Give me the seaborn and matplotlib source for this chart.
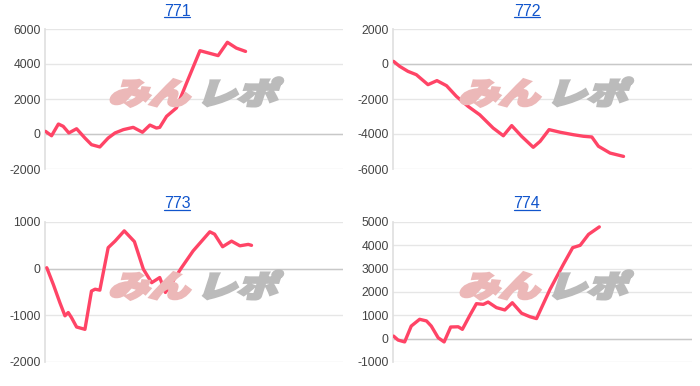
import matplotlib
matplotlib.use("Agg")
import matplotlib.pyplot as plt
import seaborn as sns
import numpy as np
from matplotlib.textpath import TextPath
from matplotlib.patches import PathPatch
from matplotlib.font_manager import FontProperties
from matplotlib.transforms import Affine2D, IdentityTransform
from matplotlib.lines import Line2D

# ---- data ----
titles = ["771", "772", "773", "774"]

x771 = [0.2, 2.2, 4.5, 6.1, 8.0, 10.6, 13.4, 15.6, 18.4, 21.2, 23.5, 26.3, 29.6, 32.7,
        35.2, 37.4, 38.5, 40.8, 44.1, 47.5, 52.0, 58.1, 61.2, 64.2, 67.3]
y771 = [150, -100, 570, 440, 60, 300, -230, -610, -740, -230, 60, 250, 380, 100,
        510, 340, 380, 1010, 1490, 2910, 4760, 4480, 5240, 4910, 4720]

x772 = [0.2, 2.2, 5.0, 7.8, 11.7, 14.7, 17.9, 21.2, 25.1, 29.0, 33.5, 36.9, 39.7, 43.0,
        46.9, 49.2, 52.2, 55.9, 60.3, 63.7, 66.5, 68.7, 72.6, 77.1]
y772 = [150, -130, -420, -610, -1180, -950, -1240, -1850, -2420, -2900, -3660, -4100,
        -3520, -4130, -4760, -4420, -3750, -3900, -4040, -4130, -4170, -4700, -5090, -5280]

x773 = [0.6, 2.8, 5.0, 6.7, 7.8, 8.9, 10.6, 13.4, 15.6, 16.8, 18.4, 21.2, 23.5, 26.6,
        30.0, 33.0, 35.8, 38.5, 40.4, 43.0, 45.8, 49.7, 55.3, 56.9, 59.6, 62.6, 65.4,
        68.2, 69.3]
y773 = [20, -340, -730, -1010, -940, -1050, -1250, -1300, -480, -440, -460, 450, 590,
        810, 580, -10, -300, -190, -510, -260, 20, 380, 790, 740, 470, 590, 490, 520, 500]

x774 = [0.2, 1.7, 3.9, 6.1, 8.9, 11.2, 12.8, 15.1, 17.1, 19.3, 21.8, 23.2, 25.7, 27.9,
        30.2, 31.8, 34.6, 37.4, 39.9, 43.0, 45.8, 48.0, 52.5, 57.0, 60.1, 62.6, 65.4, 69.0]
y774 = [110, -60, -140, 540, 830, 760, 540, 40, -140, 500, 510, 400, 1000, 1500, 1470,
        1570, 1330, 1230, 1540, 1090, 940, 860, 2110, 3190, 3900, 4000, 4470, 4790]

yticks771 = [-2000, 0, 2000, 4000, 6000]
yticks772 = [-6000, -4000, -2000, 0, 2000]
yticks773 = [-2000, -1000, 0, 1000]
yticks774 = [-1000, 0, 1000, 2000, 3000, 4000, 5000]

panels = [
    (titles[0], x771, y771, yticks771),
    (titles[1], x772, y772, yticks772),
    (titles[2], x773, y773, yticks773),
    (titles[3], x774, y774, yticks774),
]

# ---- style ----
sns.set_theme(style="white")
plt.rcParams["font.family"] = ["Liberation Sans", "DejaVu Sans"]

W, H = 700, 386
fig = plt.figure(figsize=(W / 100, H / 100), dpi=100)

LINE = "#ff4466"
offsets = [(0, 0), (350, 0), (0, 193), (350, 193)]
ax_left = [45, 393, 45, 393]
ax_right = [343, 692, 343, 692]
ax_top = 29
ax_bot = 169

jp = FontProperties(family="Noto Sans CJK JP", weight="heavy")


def add_wm(text, color, x_px, y_top_px, sx, sy):
    tp = TextPath((0, 0), text, size=30, prop=jp)
    tr = (Affine2D().scale(sx, sy).skew_deg(18, 0)
          .translate(x_px, H - y_top_px - 29) + IdentityTransform())
    p = PathPatch(tp, facecolor=color, edgecolor=color, linewidth=2.2,
                  joinstyle="miter", transform=tr, zorder=0.5, clip_on=False)
    fig.add_artist(p)


titles_art = []
for i, (title, xs, ys, yt) in enumerate(panels):
    ox, oy = offsets[i]
    l = ax_left[i] / W
    w = (ax_right[i] - ax_left[i]) / W
    b = 1 - (oy + ax_bot) / H
    h = (ax_bot - ax_top) / H

    add_wm("みん", "#ecb8b8", ox + 108, oy + 75, 1.35, 1.0)
    add_wm("レポ", "#bbbbbb", ox + 196, oy + 75, 1.35, 1.0)

    ax = fig.add_axes([l, b, w, h])
    ax.set_facecolor("none")

    sns.lineplot(x=xs, y=ys, ax=ax, color=LINE, linewidth=2.4, zorder=5)
    ax.set_xlim(0, 100)
    ax.set_ylim(yt[0], yt[-1])
    ax.set_yticks(yt)
    ax.set_yticklabels([str(v) for v in yt])
    ax.set_xticks([])
    ax.grid(axis="y", color="#e6e6e6", linewidth=1)
    ax.axhline(0, color="#c8c8c8", linewidth=1, zorder=1)
    for s in ["top", "right", "bottom"]:
        ax.spines[s].set_visible(False)
    ax.spines["left"].set_color("#e0e0e0")
    ax.tick_params(axis="y", length=0, labelsize=8.7, colors="#444444", pad=3)
    ax.set_xlabel("")
    ax.set_ylabel("")

    t = fig.text((ox + 177) / W, 1 - (oy + 11) / H, title, ha="center", va="center",
                 color="#1155cc", fontsize=11.5)
    titles_art.append(t)

fig.canvas.draw()
r = fig.canvas.get_renderer()
for t in titles_art:
    bb = t.get_window_extent(r)
    yline = (bb.y0 + 1.5) / H
    fig.add_artist(Line2D([bb.x0 / W, bb.x1 / W], [yline, yline], color="#1155cc",
                          linewidth=0.9, transform=fig.transFigure))

fig.savefig("out.png", dpi=100)
